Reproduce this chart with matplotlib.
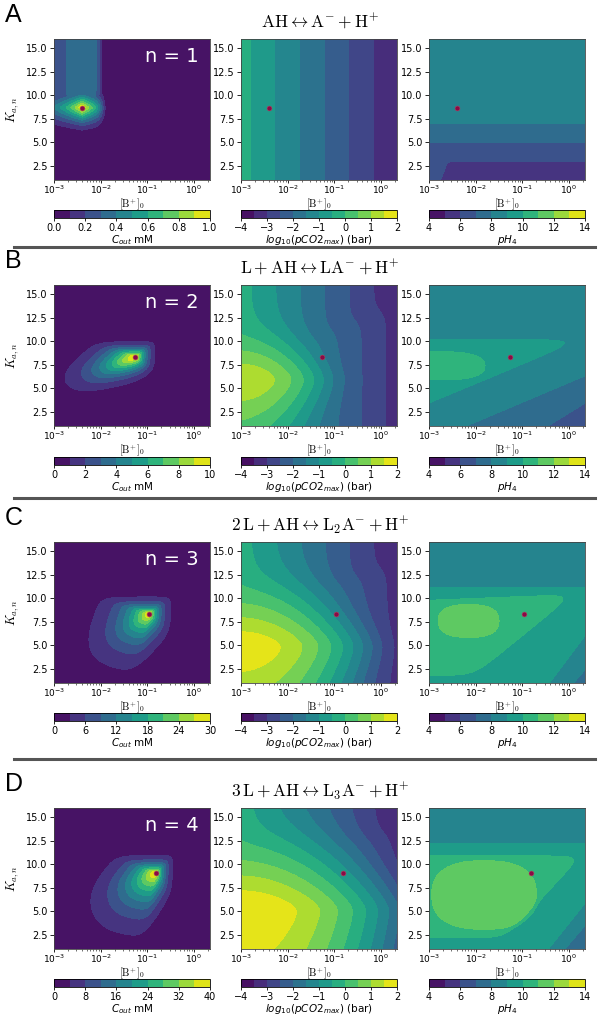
import numpy as np
import matplotlib.pyplot as plt

# ---- datos ----
letras = ['A', 'B', 'C', 'D']
n_valores = [1, 2, 3, 4]
reacciones = [r'$\mathrm{AH} \leftrightarrow \mathrm{A^{-}} + \mathrm{H^{+}}$',
              r'$\mathrm{L} + \mathrm{AH} \leftrightarrow \mathrm{LA^{-}} + \mathrm{H^{+}}$',
              r'$2\,\mathrm{L} + \mathrm{AH} \leftrightarrow \mathrm{L_2A^{-}} + \mathrm{H^{+}}$',
              r'$3\,\mathrm{L} + \mathrm{AH} \leftrightarrow \mathrm{L_3A^{-}} + \mathrm{H^{+}}$']

# punto optimo (rojo) de cada fila
b_opt = [0.004, 0.055, 0.11, 0.15]
k_opt = [8.7, 8.35, 8.35, 9.1]

# escala de C_out
c_max = [1.0, 10, 30, 40]
c_ticks = [[0.0, 0.2, 0.4, 0.6, 0.8, 1.0],
           [0, 2, 4, 6, 8, 10],
           [0, 6, 12, 18, 24, 30],
           [0, 8, 16, 24, 32, 40]]
co2_niveles = np.arange(-4, 2.01, 0.5)
co2_ticks = [-4, -3, -2, -1, 0, 1, 2]
ph_niveles = np.arange(4, 14.01, 1)
ph_ticks = [4, 6, 8, 10, 12, 14]

# borde exterior de C_out (10 % del maximo), filas B-D: lados ((logB, K), (logB, K))
cout_borde = [None,
              [((-3, 9.97), (0, 9.97)), ((-2.89, 6.8), (-2.07, 9.97)),
               ((-2.89, 0), (-2.89, 16)), ((-2.89, 5.0), (-2.36, 4.3)),
               ((-2.36, 4.3), (-1.07, 5.9)), ((-1.07, 5.9), (-0.84, 7.0)),
               ((-0.84, 0), (-0.84, 16))],
              [((-3, 10.15), (0, 10.15)), ((-2.39, 6.6), (-2.0, 10.15)),
               ((-2.39, 0), (-2.39, 16)), ((-2.39, 3.8), (-1.86, 2.0)),
               ((-3, 2.0), (0, 2.0)), ((-1.29, 2.0), (-0.5, 6.5)),
               ((-0.5, 0), (-0.5, 16))],
              [((-3, 10.96), (0, 10.96)), ((-2.29, 7.6), (-1.65, 10.96)),
               ((-2.29, 0), (-2.29, 16)), ((-2.29, 3.6), (-1.93, 2.2)),
               ((-3, 2.2), (0, 2.2)), ((-1.07, 2.2), (-0.46, 7.2)),
               ((-0.46, 0), (-0.46, 16))]]
cout_exp = [None, 1.35, 1.1, 1.2]

# log10(pCO2_max): bandas verticales + lobulo a la izquierda
co2_pend = 0.95
co2_c0 = 3.15
co2_salto = [0.0, 0.25, 0.26, 0.27]
co2_lob_max = [None, 1.4, 1.85, 1.99]
co2_lob_a = [None, 0.8, 0.5, 0.35]
co2_lob_k = [None, 5.9, 4.8, 5.0]
co2_lob_arr = [None, 0.42, 0.37, 0.34]
co2_lob_abj = [None, 0.3, 0.2, 0.1]

# pH_4 (filas B-D): valor de fondo + zonas que suben una unidad cada una
# cada zona: lista de bordes rectos ((logB, K), (logB, K)) y un punto interior
ph_fondo = [None, 6.5, 7.5, 7.5]
ph_zonas = [None,
            [([((-0.45, 1), (0.3, 3.3))], (-3, 16)),
             ([((-2.2, 1), (0.3, 6.25))], (-3, 16)),
             ([((-3, 10.2), (0.3, 10.2)), ((-3, 3.45), (-0.17, 9.3))], (-3, 7))],
            [([((0.1, 1), (0.32, 2.3))], (-3, 16)),
             ([((-3, 11.2), (0.3, 11.2)), ((-0.42, 1), (0.32, 5.9))], (-3, 6)),
             ([((-3, 9.8), (0.0, 10.4)), ((-2.05, 1.8), (0.03, 10.2)),
               ((-3, 1.8), (0.3, 1.8))], (-2.5, 6))],
            [([((-0.09, 1), (0.3, 3.25))], (-3, 16)),
             ([((-3, 12.25), (0.3, 12.25)), ((-0.44, 1), (0.3, 5.6))], (-3, 6)),
             ([((-3, 10.9), (0.3, 10.9)), ((-1.6, 1), (0.13, 10.2)),
               ((-3, 2.2), (0.3, 2.2))], (-2.5, 6))]]
# ovalo interior: centro logB, centro K, radio logB, radio K
ph_oval = [None, (-2.75, 7.4, 0.95, 1.5), (-2.15, 7.6, 0.65, 1.75), (-1.82, 6.75, 1.12, 3.65)]

plt.rcParams['font.family'] = ['DejaVu Sans']
plt.rcParams['mathtext.fontset'] = 'dejavusans'

# malla (log10 [B+]0, K)
u = np.linspace(-3, np.log10(2.2), 400)
k = np.linspace(1, 16, 400)
U, K = np.meshgrid(u, k)
B = 10 ** U
# pixeles por decada y por unidad de K (para distancias)
PX_U, PX_K = 47.3, 9.4


def sig(x):
    return 1 / (1 + np.exp(-x))


def softmin(ts, w):
    return -w * np.log(sum(np.exp(-t / w) for t in ts))


def lado(p1, p2, dentro):
    # distancia (px) con signo a la recta p1-p2, positiva del lado de 'dentro'
    x1, y1 = p1[0] * PX_U, p1[1] * PX_K
    x2, y2 = p2[0] * PX_U, p2[1] * PX_K
    dx, dy = x2 - x1, y2 - y1
    n = np.hypot(dx, dy)
    d = (dx * (K * PX_K - y1) - dy * (U * PX_U - x1)) / n
    ref = dx * (dentro[1] * PX_K - y1) - dy * (dentro[0] * PX_U - x1)
    return d * np.sign(ref)


def gauge(lados, p0, q=6):
    # 0 en el maximo, 1 sobre el borde exterior, anillos anidados hacia p0
    suma = 0 * U
    for (x1, y1), (x2, y2) in lados:
        nx, ny = -(y2 - y1), (x2 - x1)
        b = nx * (x1 - p0[0]) + ny * (y1 - p0[1])
        if b < 0:
            nx, ny, b = -nx, -ny, -b
        r = (nx * (U - p0[0]) + ny * (K - p0[1])) / b
        suma = suma + np.maximum(r, 0) ** q
    return suma ** (1 / q)


def campo_cout(i):
    u0 = np.log10(b_opt[i])
    k0 = k_opt[i]
    if i == 0:
        du = u0 - U
        dk = K - k0
        gu = np.where(du > 0, np.exp(-du / 0.68),
                      np.exp(-np.abs(du) / 0.65 - (np.abs(du) / 0.46) ** 6))
        gk = np.exp(-np.abs(dk) / 3.0 - (dk / 1.96) ** 2)
        pluma = 0.36 * np.where(du > 0, np.exp(-(du / 0.8) ** 2),
                                np.exp(-(np.abs(du) / 0.398) ** 6)) * sig(dk / 0.35)
        c = np.maximum(gu * gk, pluma)
    else:
        R = gauge(cout_borde[i], (u0, k0))
        c = np.exp(-2.303 * R ** cout_exp[i])
    return np.minimum(c, 0.999) * c_max[i]


def campo_co2(i):
    kk = 13.3 + 2.0 * U
    base = -(co2_pend * U + co2_c0) + co2_salto[i] * sig((kk - K) / 0.6)
    if co2_lob_max[i] is None:
        z = base
    else:
        dk = K - co2_lob_k[i]
        c = np.where(dk > 0, co2_lob_arr[i], co2_lob_abj[i])
        lob = co2_lob_max[i] - co2_lob_a[i] * (U + 3) ** 2 - c * (np.sqrt(dk ** 2 + 0.81) - 0.9)
        z = np.log10(10 ** base + 10 ** lob)
    return np.clip(z, -3.999, 1.999)


def campo_ph(i):
    if i == 0:
        esquina = 1.1 * sig((-2.68 - U) / 0.04) * sig((3.2 - K) / 0.3)
        return 4.5 + 0.5 * np.minimum(K, 8.5) + esquina
    w = 1.2
    z = ph_fondo[i] + 0 * U
    for bordes, dentro in ph_zonas[i]:
        g = softmin([lado(p1, p2, dentro) for p1, p2 in bordes], 5.0)
        z = z + sig(g / w)
    uo, ko, ru, rk = ph_oval[i]
    ro = ((np.abs(U - uo) / ru) ** 2.5 + (np.abs(K - ko) / rk) ** 2.5) ** (1 / 2.5)
    z = z + sig((1 - ro) * min(ru * PX_U, rk * PX_K) / w)
    return np.clip(z, 4.001, 13.999)


# ---- figura ----
W, H = 598, 1014
fig = plt.figure(figsize=(W / 100, H / 100), dpi=100)


def caja(x, y, w, h):
    return fig.add_axes([x / W, 1 - (y + h) / H, w / W, h / H])


col_x = [54, 241, 429]
fila_y = [39, 285, 542, 808]
barra_y = [210, 457, 713, 979]
separador_y = [247, 498, 759]
ancho, alto = 156, 141

etiquetas_barra = [r'$C_{out}$ mM', r'$log_{10}(pCO2_{max})$ (bar)', r'$pH_4$']

for i in range(4):
    campos = [campo_cout(i), campo_co2(i), campo_ph(i)]
    niveles = [np.linspace(0, c_max[i], 11), co2_niveles, ph_niveles]
    ticks = [c_ticks[i], co2_ticks, ph_ticks]
    for j in range(3):
        ax = caja(col_x[j], fila_y[i], ancho, alto)
        cs = ax.contourf(B, K, campos[j], levels=niveles[j], cmap='viridis')
        ax.set_xscale('log')
        ax.set_xlim(1e-3, 2.2)
        ax.set_ylim(1, 16)
        ax.set_yticks([2.5, 5.0, 7.5, 10.0, 12.5, 15.0])
        ax.set_xticks([1e-3, 1e-2, 1e-1, 1e0])
        ax.tick_params(axis='y', labelsize=7, length=3, width=0.6, pad=1.5)
        ax.tick_params(axis='x', labelsize=6.5, length=2, width=0.6, pad=0.5)
        ax.tick_params(which='minor', length=1.5, width=0.4)
        for s in ax.spines.values():
            s.set_linewidth(0.6)
            s.set_color('#444444')
        ax.plot(b_opt[i], k_opt[i], 'o', color='#8a0a45', ms=3.5, mec='#b04060', mew=0.4)
        ax.set_xlabel(r'$[\mathrm{B}^{+}]_0$', fontsize=7.5, math_fontfamily='cm')
        ax.xaxis.set_label_coords(0.5, -0.118)
        if j == 0:
            ax.set_ylabel(r'$K_{a,n}$', fontsize=9, math_fontfamily='cm')
            ax.yaxis.set_label_coords(-0.21, 0.5)
            ax.text(0.93, 0.94, 'n = %d' % n_valores[i], transform=ax.transAxes,
                    ha='right', va='top', color='white', fontsize=14)
        cax = caja(col_x[j], barra_y[i], ancho, 8)
        cb = fig.colorbar(cs, cax=cax, orientation='horizontal', ticks=ticks[j])
        cb.outline.set_linewidth(0.6)
        cax.tick_params(labelsize=7, length=2.5, width=0.6, pad=1)
        cax.set_xlabel(etiquetas_barra[j], fontsize=7.5, labelpad=0)

    fig.text(5 / W, 1 - (fila_y[i] - 17) / H, letras[i], fontsize=18,
             family='Liberation Sans', va='baseline', ha='left')
    fig.text(320 / W, 1 - (fila_y[i] - 11) / H, reacciones[i], fontsize=12.5,
             ha='center', va='baseline', math_fontfamily='cm')

for y in separador_y:
    fig.add_artist(plt.Line2D([14 / W, 595 / W], [1 - y / H, 1 - y / H],
                              color='#555555', lw=2.2))

fig.savefig('out.png', dpi=100)
